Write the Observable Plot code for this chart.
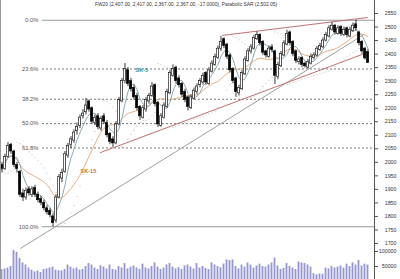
<!DOCTYPE html>
<html><head><meta charset="utf-8">
<script src="https://cdn.jsdelivr.net/npm/d3@7"></script>
<script src="https://cdn.jsdelivr.net/npm/@observablehq/plot@0.6"></script>
<style>
body{margin:0;background:#fff;}
#wrap{position:relative;width:400px;height:279px;overflow:hidden;font-family:"Liberation Sans",Arial,sans-serif;background:#fff;}
#price{position:absolute;left:0;top:0;}
#vol{position:absolute;left:0;top:244px;}
#title{position:absolute;left:95px;top:3px;font-size:4.9px;color:#333;white-space:nowrap;line-height:1;}
#border{position:absolute;left:0;top:0;width:1px;height:279px;background:#999;}
</style></head>
<body><div id="wrap"><div id="vol"></div><div id="price"></div><div id="title"></div><div id="border"></div></div>
<script>
const titleText = "FW20 (2,407.00, 2,417.00, 2,367.00, 2,367.00, -17.0000), Parabolic SAR (2,502.05)";

const open = [1990,1975,2020,2065,2040,1990,1965,1885,1870,1900,
  1880,1905,1880,1865,1850,1830,1820,1800,1785,1870,
  1940,1965,2025,2065,2080,2115,2135,2170,2185,2225,
  2200,2145,2170,2125,2170,2145,2105,2085,2070,2140,
  2225,2300,2340,2300,2275,2245,2205,2165,2195,2225,
  2245,2285,2220,2135,2165,2205,2255,2320,2350,2310,
  2290,2260,2240,2200,2235,2260,2285,2295,2330,2290,
  2335,2360,2385,2420,2455,2435,2395,2345,2310,2255,
  2270,2325,2375,2410,2420,2455,2470,2445,2410,2390,
  2425,2410,2315,2355,2395,2435,2480,2445,2410,2370,
  2385,2365,2350,2365,2385,2395,2415,2425,2450,2465,
  2490,2505,2475,2500,2470,2495,2465,2485,2510,2480,
  2445,2420,2407];
const high = [2000,2030,2073,2070,2045,2000,1970,1900,1905,1910,
  1910,1915,1890,1875,1860,1840,1830,1810,1880,1955,
  1975,2040,2070,2095,2120,2145,2175,2195,2236,2230,
  2205,2175,2180,2170,2180,2155,2110,2095,2150,2240,
  2310,2365,2350,2310,2285,2255,2210,2210,2240,2255,
  2295,2290,2225,2180,2220,2270,2340,2360,2355,2320,
  2295,2270,2245,2250,2275,2290,2310,2330,2335,2350,
  2375,2400,2430,2465,2460,2440,2400,2350,2315,2285,
  2340,2390,2420,2435,2470,2482,2475,2450,2415,2430,
  2435,2415,2370,2410,2450,2488,2485,2450,2415,2390,
  2390,2370,2380,2400,2405,2428,2440,2460,2480,2505,
  2517,2510,2505,2505,2500,2500,2500,2515,2525,2485,
  2450,2425,2417];
const low = [1960,1970,2015,2030,1980,1960,1870,1855,1860,1875,
  1870,1870,1850,1840,1820,1805,1795,1762,1775,1865,
  1925,1960,2015,2050,2070,2100,2125,2160,2175,2185,
  2140,2135,2120,2115,2140,2090,2065,2055,2065,2135,
  2220,2290,2280,2260,2230,2190,2155,2160,2185,2215,
  2240,2205,2129,2130,2160,2200,2250,2315,2290,2275,
  2240,2220,2190,2195,2230,2250,2275,2285,2285,2285,
  2330,2355,2380,2410,2420,2380,2330,2290,2240,2245,
  2265,2320,2370,2400,2415,2450,2430,2395,2385,2385,
  2405,2288,2305,2350,2390,2430,2430,2390,2365,2360,
  2350,2348,2345,2360,2378,2390,2410,2420,2445,2460,
  2485,2470,2470,2465,2465,2460,2460,2480,2485,2430,
  2400,2378,2367];
const close = [1975,2020,2060,2040,1990,1975,1880,1870,1895,1885,
  1900,1880,1860,1850,1830,1815,1805,1775,1870,1945,
  1960,2030,2060,2085,2110,2130,2165,2180,2210,2195,
  2150,2165,2130,2160,2150,2100,2075,2070,2140,2230,
  2300,2345,2290,2270,2240,2200,2170,2200,2230,2245,
  2280,2215,2140,2170,2210,2260,2330,2345,2300,2285,
  2250,2230,2205,2240,2265,2280,2300,2320,2295,2340,
  2365,2390,2420,2445,2430,2390,2340,2300,2260,2275,
  2330,2380,2410,2425,2460,2470,2440,2405,2395,2420,
  2415,2320,2360,2400,2440,2475,2440,2400,2375,2380,
  2360,2355,2370,2390,2395,2420,2430,2450,2470,2495,
  2505,2480,2495,2475,2490,2470,2490,2505,2495,2440,
  2410,2384,2367];
const volume = [40000,42000,45000,50000,103000,97000,77000,62000,55000,45000,
  38000,32000,35000,30000,40000,42000,45000,48000,38000,36000,
  35000,40000,55000,48000,42000,45000,38000,40000,50000,60000,
  55000,45000,40000,52000,48000,42000,55000,40000,38000,50000,
  45000,60000,42000,48000,52000,45000,40000,58000,45000,42000,
  50000,62000,48000,40000,45000,55000,60000,48000,42000,46000,
  40000,52000,55000,48000,42000,60000,45000,50000,44000,40000,
  62000,55000,50000,46000,58000,72000,70000,72000,50000,42000,
  55000,48000,62000,55000,45000,52000,58000,50000,48000,55000,
  62000,78000,52000,40000,44000,60000,50000,45000,40000,65000,
  62000,60000,55000,48000,26000,22000,25000,24000,45000,42000,
  50000,45000,48000,52000,45000,58000,50000,62000,55000,70000,
  52000,58000,55000];

const priceTicks = [1700,1750,1800,1850,1900,1950,2000,2050,2100,2150,2200,2250,2300,2350,2400,2450,2500,2550];
const volumeTicks = [50000,100000];

const fibLabels = ["0.0%","23.6%","38.2%","50.0%","61.8%","100.0%"];
const fibPrices = [2525,2345,2233,2143,2053,1762];
const fibSolid = [true,false,false,false,false,true];
const fibStartIndex = 13.5;

// trend lines: [index, price] end points
const supportLine = [[6.2,1682],[120.2,2469]];
const lowerRedLine = [[32.8,2036],[121.8,2406]];
const upperRedLine = [[73.5,2469],[121.8,2535]];

const maNames = ["SK-5","SK-15"];
const maPeriods = [5,15];
const maLabelIndex = [44.5,26.2];
const maLabelPrice = [2339,1968];
const maLineColors = ["#7aa3ad","#e3a878"];
const maTextColors = ["#3a8f8f","#d2701e"];

// Parabolic SAR from the candles
function parabolicSAR(h, l, c, step = 0.02, maxAf = 0.2) {
  const n = h.length, out = new Array(n).fill(null);
  let up = c[1] > c[0];
  let sar = up ? l[0] : h[0];
  let ep = up ? h[0] : l[0];
  let af = step;
  for (let i = 1; i < n; i++) {
    sar = sar + af * (ep - sar);
    if (up) {
      sar = Math.min(sar, l[i - 1], l[Math.max(0, i - 2)]);
      if (l[i] < sar) { up = false; sar = ep; ep = l[i]; af = step; }
      else if (h[i] > ep) { ep = h[i]; af = Math.min(af + step, maxAf); }
    } else {
      sar = Math.max(sar, h[i - 1], h[Math.max(0, i - 2)]);
      if (h[i] > sar) { up = true; sar = ep; ep = h[i]; af = step; }
      else if (l[i] < ep) { ep = l[i]; af = Math.min(af + step, maxAf); }
    }
    out[i] = sar;
  }
  return out;
}
const sar = parabolicSAR(high, low, close);

const candles = close.map((c, i) => ({i, open: open[i], high: high[i], low: low[i], close: c, volume: volume[i], sar: sar[i]}));
const fib = fibPrices.map((p, k) => ({p, label: fibLabels[k], solid: fibSolid[k], x1: fibStartIndex}));
const lineData = (pts, name) => pts.map(([i, p]) => ({i, p, name}));
const trend = [...lineData(supportLine, "support"), ...lineData(lowerRedLine, "lower"), ...lineData(upperRedLine, "upper")];
const maLabels = maNames.map((n, k) => ({name: n, i: maLabelIndex[k], p: maLabelPrice[k], color: maTextColors[k]}));

const xDomain = [-0.5, 124.1667];
const font = "Liberation Sans, Arial, sans-serif";

const priceChart = Plot.plot({
  width: 400, height: 245,
  marginLeft: 0, marginRight: 26, marginTop: 0, marginBottom: 0,
  style: {fontFamily: font, fontSize: "5.5px", background: "transparent", overflow: "visible", color: "#333"},
  x: {domain: xDomain, axis: null},
  y: {domain: [1700, 2550], range: [243, 13], axis: null},
  marks: [
    Plot.ruleY(fib.filter(d => d.solid), {y: "p", x1: "x1", x2: xDomain[1], stroke: "#999", strokeWidth: 1}),
    Plot.ruleY(fib.filter(d => !d.solid), {y: "p", x1: "x1", x2: xDomain[1], stroke: "#777", strokeWidth: 1, strokeDasharray: "2,2"}),
    Plot.text(fib, {x: "x1", y: "p", text: "label", textAnchor: "end", dx: -4, fill: "#555", fontSize: 5.8}),
    Plot.line(trend, {x: "i", y: "p", z: "name", stroke: d => d.name === "support" ? "#a0a0a0" : "#c07070", strokeWidth: 1}),
    Plot.dot(candles.filter(d => d.sar != null), {x: "i", y: "sar", r: 0.55, fill: "#b8b8b8", stroke: null}),
    Plot.lineY(candles, Plot.windowY({k: maPeriods[1], anchor: "end"}, {x: "i", y: "close", stroke: maLineColors[1], strokeWidth: 0.9})),
    Plot.lineY(candles, Plot.windowY({k: maPeriods[0], anchor: "end"}, {x: "i", y: "close", stroke: maLineColors[0], strokeWidth: 0.9})),
    Plot.ruleX(candles, {x: "i", y1: "low", y2: "high", stroke: "#000", strokeWidth: 0.8}),
    Plot.rect(candles, {x1: d => d.i - 0.36, x2: d => d.i + 0.36, y1: "open", y2: "close",
      fill: d => d.close >= d.open ? "#fff" : "#000", stroke: "#000", strokeWidth: 0.6}),
    Plot.text(maLabels, {x: "i", y: "p", text: "name", fill: "color", textAnchor: "start", fontSize: 5.5, fontWeight: "bold"}),
    Plot.axisY({anchor: "right", ticks: priceTicks, tickSize: 3, tickPadding: 19, textAnchor: "end",
      tickFormat: d3.format("d"), fontSize: 5.3, stroke: "#555", label: null}),
    Plot.frame({anchor: "right", stroke: "#555"})
  ]
});
document.getElementById("price").appendChild(priceChart);

const volChart = Plot.plot({
  width: 400, height: 35,
  marginLeft: 0, marginRight: 26, marginTop: 0, marginBottom: 0,
  style: {fontFamily: font, fontSize: "5.5px", background: "transparent", color: "#333"},
  x: {domain: xDomain, axis: null},
  y: {domain: [0, 100000], range: [37, 7], axis: null},
  marks: [
    Plot.rect(candles, {x1: d => d.i - 0.3, x2: d => d.i + 0.3, y1: 0, y2: "volume", fill: "#9595cf"}),
    Plot.axisY({anchor: "right", ticks: volumeTicks, tickSize: 3, tickPadding: 19, textAnchor: "end",
      tickFormat: d3.format("d"), fontSize: 5.3, stroke: "#555", label: null}),
    Plot.frame({anchor: "right", stroke: "#555"})
  ]
});
document.getElementById("vol").appendChild(volChart);

document.getElementById("title").textContent = titleText;
</script>
</body></html>
